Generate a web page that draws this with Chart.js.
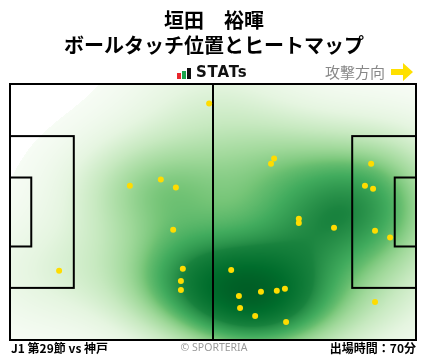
<!DOCTYPE html>
<html>
<head>
<meta charset="utf-8">
<script src="https://cdn.jsdelivr.net/npm/chart.js@4.4.1/dist/chart.umd.min.js"></script>
<style>
  body { margin: 0; background: #fff; }
  #wrap { position: relative; width: 428px; height: 359px; overflow: hidden;
          font-family: "Noto Sans CJK JP", "Noto Sans", sans-serif; }
  #c { position: absolute; left: 0; top: 0; }
  .t { position: absolute; white-space: nowrap; line-height: 1; }
</style>
</head>
<body>
<div id="wrap">
  <canvas id="c" width="428" height="359"></canvas>
  <div class="t" style="left:0;width:428px;text-align:center;top:10px;font-size:20px;font-weight:700;">垣田　裕暉</div>
  <div class="t" style="left:0;width:428px;text-align:center;top:35px;font-size:20px;font-weight:700;">ボールタッチ位置とヒートマップ</div>
  <svg class="t" style="left:176px;top:67px;" width="16" height="13">
    <rect x="1" y="6" width="4" height="6" fill="#e8262c"/>
    <rect x="6" y="4" width="4" height="8" fill="#1aa34a"/>
    <rect x="11" y="1" width="4" height="11" fill="#111"/>
  </svg>
  <div class="t" style="left:196px;top:65px;font-size:15px;font-weight:700;letter-spacing:0.8px;font-family:'DejaVu Sans';color:#111;">STATs</div>
  <div class="t" style="left:325px;top:64px;font-size:15px;color:#888;">攻撃方向</div>
  <svg class="t" style="left:390px;top:62px;" width="25" height="20">
    <polygon points="1,7 13,7 13,1 23,10 13,19 13,13 1,13" fill="#ffe000"/>
  </svg>
  <div class="t" style="left:11px;top:342px;font-size:12px;font-weight:700;">J1 第29節 vs 神戸</div>
  <div class="t" style="left:0;width:428px;text-align:center;top:342px;font-size:10.5px;color:#999;font-family:'Noto Sans',sans-serif;">© SPORTERIA</div>
  <div class="t" style="right:12px;top:342px;font-size:12px;font-weight:700;">出場時間：70分</div>
</div>
<script>
// ball touch positions in metres (x: 0-105 attacking right, y: 0-68 from top)
const touchX = [51.5, 31.0, 39.0, 42.9, 68.3, 67.5, 93.4, 91.8, 93.9, 74.7, 74.7, 83.8, 94.4, 98.3,
                42.2, 12.7, 44.7, 44.2, 44.2, 57.2, 59.2, 64.9, 69.0, 71.1, 59.5, 63.4, 71.4, 94.4];
const touchY = [5.2, 27.0, 25.4, 27.5, 19.8, 21.2, 21.2, 27.0, 27.8, 35.8, 36.9, 38.2, 39.0, 40.8,
                38.7, 49.6, 49.1, 52.3, 54.7, 49.4, 56.3, 55.2, 54.9, 54.4, 59.5, 61.6, 63.2, 57.9];

const pitchLength = 105;
const pitchWidth = 68;

const greens = ["#f7fcf5", "#e5f5e0", "#c7e9c0", "#a1d99b", "#74c476", "#41ab5d", "#238b45", "#006d2c", "#00441b"]
  .map(h => [parseInt(h.slice(1, 3), 16), parseInt(h.slice(3, 5), 16), parseInt(h.slice(5, 7), 16)]);

function greenAt(t) {
  const p = Math.max(0, Math.min(1, t)) * (greens.length - 1);
  const i = Math.min(Math.floor(p), greens.length - 2);
  const f = p - i;
  return greens[i].map((c, k) => c + (greens[i + 1][k] - c) * f);
}

// gaussian kde (scott's rule, slightly widened), coloured by iso-proportion of mass
const bwAdjust = 1.1;
const heatmap = {
  id: "heatmap",
  beforeDatasetsDraw(chart) {
    const { ctx, chartArea: a, scales: { x, y } } = chart;
    const n = touchX.length;
    const mx = touchX.reduce((s, v) => s + v, 0) / n;
    const my = touchY.reduce((s, v) => s + v, 0) / n;
    let sxx = 0, syy = 0, sxy = 0;
    for (let i = 0; i < n; i++) {
      sxx += (touchX[i] - mx) ** 2;
      syy += (touchY[i] - my) ** 2;
      sxy += (touchX[i] - mx) * (touchY[i] - my);
    }
    const f2 = Math.pow(n, -1 / 3) * bwAdjust * bwAdjust;
    const cxx = sxx / (n - 1) * f2, cyy = syy / (n - 1) * f2, cxy = sxy / (n - 1) * f2;
    const det = cxx * cyy - cxy * cxy;
    const ia = cyy / det, ib = -cxy / det, ic = cxx / det;
    const kde = (vx, vy) => {
      let d = 0;
      for (let k = 0; k < n; k++) {
        const dx = vx - touchX[k], dy = vy - touchY[k];
        d += Math.exp(-0.5 * (dx * dx * ia + 2 * dx * dy * ib + dy * dy * ic));
      }
      return d;
    };

    // support grid (data range +- 3 bandwidths) to get mass levels
    const g = 200, bx = Math.sqrt(cxx), by = Math.sqrt(cyy);
    const x0 = Math.min(...touchX) - 3 * bx, x1 = Math.max(...touchX) + 3 * bx;
    const y0 = Math.min(...touchY) - 3 * by, y1 = Math.max(...touchY) + 3 * by;
    const grid = new Float64Array(g * g);
    for (let j = 0; j < g; j++)
      for (let i = 0; i < g; i++)
        grid[j * g + i] = kde(x0 + (x1 - x0) * i / (g - 1), y0 + (y1 - y0) * j / (g - 1));
    const sorted = Array.from(grid).sort((p, q) => q - p);
    const total = sorted.reduce((s, v) => s + v, 0);
    const cum = new Float64Array(sorted.length);
    let acc = 0;
    sorted.forEach((v, i) => { acc += v; cum[i] = acc / total; });
    const massBelow = d => {
      let lo = 0, hi = sorted.length;
      while (lo < hi) { const m = (lo + hi) >> 1; if (sorted[m] >= d) lo = m + 1; else hi = m; }
      return lo === 0 ? 1 : 1 - cum[lo - 1];
    };

    const w = Math.round(a.right - a.left), h = Math.round(a.bottom - a.top);
    const thresh = 0.01;
    const off = document.createElement("canvas");
    off.width = w; off.height = h;
    const octx = off.getContext("2d");
    const img = octx.createImageData(w, h);
    for (let j = 0; j < h; j++) {
      const vy = y.getValueForPixel(a.top + j + 0.5);
      for (let i = 0; i < w; i++) {
        const vx = x.getValueForPixel(a.left + i + 0.5);
        const f = massBelow(kde(vx, vy));
        const c = f < thresh ? [255, 255, 255]
          : greenAt(Math.pow((f - thresh) / (1 - thresh), 0.8) * 0.92);
        const p = (j * w + i) * 4;
        img.data[p] = c[0]; img.data[p + 1] = c[1]; img.data[p + 2] = c[2]; img.data[p + 3] = 255;
      }
    }
    octx.putImageData(img, 0, 0);
    ctx.drawImage(off, a.left, a.top);

    // pitch markings
    const px = v => x.getPixelForValue(v), py = v => y.getPixelForValue(v);
    const boxW = 40.32, gaW = 18.32;
    ctx.save();
    ctx.strokeStyle = "#000";
    ctx.lineWidth = 2;
    const rect = (xa, ya, xb, yb) => ctx.strokeRect(px(xa), py(ya), px(xb) - px(xa), py(yb) - py(ya));
    rect(0, 0, pitchLength, pitchWidth);
    rect(0, (pitchWidth - boxW) / 2, 16.5, (pitchWidth + boxW) / 2);
    rect(0, (pitchWidth - gaW) / 2, 5.5, (pitchWidth + gaW) / 2);
    rect(pitchLength - 16.5, (pitchWidth - boxW) / 2, pitchLength, (pitchWidth + boxW) / 2);
    rect(pitchLength - 5.5, (pitchWidth - gaW) / 2, pitchLength, (pitchWidth + gaW) / 2);
    ctx.beginPath();
    ctx.moveTo(px(pitchLength / 2), py(0));
    ctx.lineTo(px(pitchLength / 2), py(pitchWidth));
    ctx.stroke();
    ctx.restore();
  }
};

new Chart(document.getElementById("c"), {
  type: "scatter",
  data: {
    datasets: [{
      data: touchX.map((v, i) => ({ x: v, y: touchY[i] })),
      backgroundColor: "#ffdc00",
      borderWidth: 0,
      pointRadius: 3,
    }]
  },
  options: {
    responsive: false,
    animation: false,
    events: [],
    layout: { padding: { left: 10, right: 12, top: 84, bottom: 19 } },
    plugins: { legend: { display: false }, tooltip: { enabled: false } },
    scales: {
      x: { type: "linear", min: 0, max: pitchLength, display: false },
      y: { type: "linear", min: 0, max: pitchWidth, reverse: true, display: false }
    }
  },
  plugins: [heatmap]
});
</script>
</body>
</html>
